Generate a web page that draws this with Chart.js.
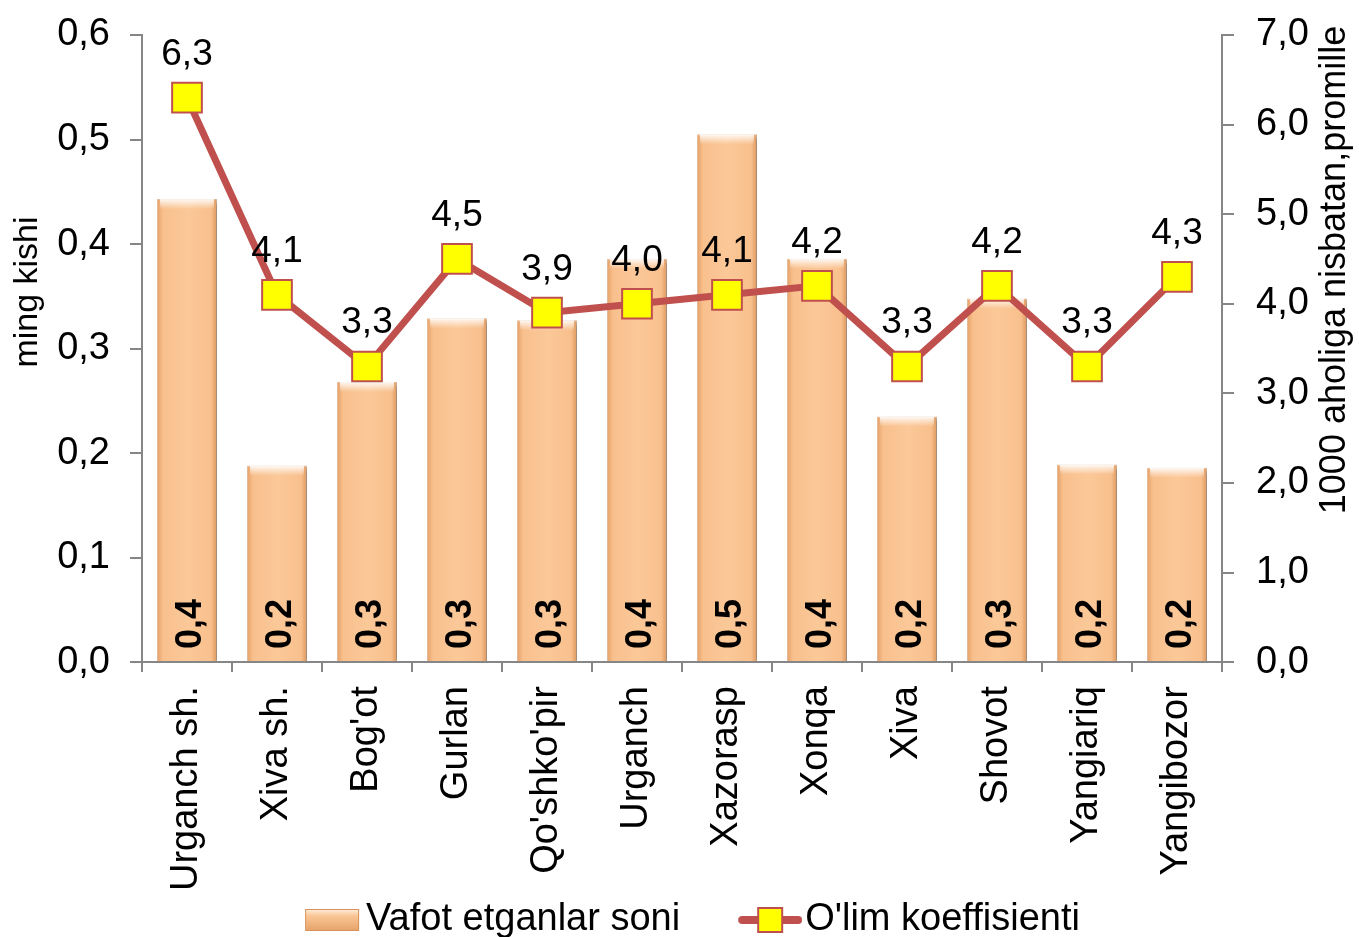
<!DOCTYPE html>
<html>
<head>
<meta charset="utf-8">
<script src="https://cdn.jsdelivr.net/npm/chart.js@4"></script>
<style>
  html, body { margin: 0; padding: 0; background: #fff; }
  #wrap { width: 1359px; height: 937px; }
</style>
</head>
<body>
<div id="wrap"><canvas id="chart" width="1359" height="937"></canvas></div>
<script>
// Ma'lumotlar
const categories = ["Urganch sh.", "Xiva sh.", "Bog'ot", "Gurlan", "Qo'shko'pir", "Urganch",
                    "Xazorasp", "Xonqa", "Xiva", "Shovot", "Yangiariq", "Yangibozor"];
const deaths = [0.443, 0.188, 0.268, 0.329, 0.327, 0.386, 0.505, 0.386, 0.235, 0.348, 0.189, 0.186];
const rate = [6.3, 4.1, 3.3, 4.5, 3.9, 4.0, 4.1, 4.2, 3.3, 4.2, 3.3, 4.3];
const leftTicks = [0, 0.1, 0.2, 0.3, 0.4, 0.5, 0.6];
const rightTicks = [0, 1, 2, 3, 4, 5, 6, 7];
const leftTitle = 'ming kishi';
const rightTitle = '1000 aholiga nisbatan,promille';

const FONT = "'Liberation Sans', Arial, sans-serif";
const AXIS = '#868686';
const LINE = '#C0504D';
const BAR_FRACTION = 0.667;
const TICK_SIZE = 38;

const fmt = v => v.toFixed(1).replace('.', ',');

// gradient per bar, across its width
function barFill(context) {
    const chart = context.chart;
    const xs = chart.scales.x;
    if (!xs || !chart.chartArea) return '#F9C494';
    const cx = xs.getPixelForValue(context.dataIndex);
    const half = xs.width / categories.length * BAR_FRACTION / 2;
    const g = chart.ctx.createLinearGradient(cx - half, 0, cx + half, 0);
    g.addColorStop(0, '#E6A066');
    g.addColorStop(0.1, '#F8C08D');
    g.addColorStop(0.5, '#FBC898');
    g.addColorStop(0.9, '#F8C08D');
    g.addColorStop(1, '#DE985E');
    return g;
}

// legend swatches: the drawn part sits at the right end of the canvas
// (the canvas is centred on the legend box), so the gap to the text stays small
const SWATCH_W = 102;
function barSwatch() {
    const c = document.createElement('canvas');
    c.width = 130;
    c.height = 26;
    const x = c.getContext('2d');
    const x0 = c.width - 56;
    const g = x.createLinearGradient(0, 2, 0, 24);
    g.addColorStop(0, '#FFF1E2');
    g.addColorStop(0.3, '#FAC797');
    g.addColorStop(1, '#E6A268');
    x.fillStyle = g;
    x.fillRect(x0, 2, 54, 22);
    x.strokeStyle = '#D6925A';
    x.strokeRect(x0 + 0.5, 2.5, 53, 21);
    return c;
}
function lineSwatch() {
    const c = document.createElement('canvas');
    c.width = 134;
    c.height = 30;
    const x = c.getContext('2d');
    const x0 = c.width - 64;
    x.strokeStyle = LINE;
    x.lineWidth = 8;
    x.lineCap = 'round';
    x.beginPath(); x.moveTo(x0 + 4, 15); x.lineTo(x0 + 60, 15); x.stroke();
    x.fillStyle = '#FFFF00';
    x.fillRect(x0 + 20, 3, 24, 24);
    x.strokeStyle = LINE;
    x.lineWidth = 2;
    x.strokeRect(x0 + 20, 3, 24, 24);
    return c;
}

// shadows, bar caps, value labels and axis titles
const decorPlugin = {
    id: 'decor',
    beforeDatasetDraw(chart, args) {
        if (args.meta.type === 'bar') {
            const ctx = chart.ctx;
            ctx.save();
            ctx.shadowColor = 'rgba(0,0,0,0.35)';
            ctx.shadowBlur = 5;
            ctx.shadowOffsetX = 3;
            ctx.shadowOffsetY = 2;
        }
    },
    afterDatasetDraw(chart, args) {
        if (args.meta.type !== 'bar') return;
        const ctx = chart.ctx;
        ctx.restore();
        args.meta.data.forEach(bar => {
            const half = bar.width / 2;
            const g = ctx.createLinearGradient(0, bar.y, 0, bar.y + 10);
            g.addColorStop(0, 'rgba(255,255,255,0.9)');
            g.addColorStop(1, 'rgba(255,255,255,0)');
            ctx.fillStyle = g;
            ctx.fillRect(bar.x - half + 3, bar.y, bar.width - 6, 10);
        });
    },
    afterDatasetsDraw(chart) {
        const ctx = chart.ctx;
        const bottom = chart.chartArea.bottom;
        ctx.save();
        ctx.fillStyle = '#000';
        // bar labels (bold, vertical, at the base)
        chart.getDatasetMeta(1).data.forEach((bar, i) => {
            ctx.save();
            ctx.translate(bar.x + 4, bottom - 13);
            ctx.rotate(-Math.PI / 2);
            ctx.font = 'bold 36px ' + FONT;
            ctx.textAlign = 'left';
            ctx.textBaseline = 'middle';
            ctx.fillText(fmt(deaths[i]), 0, 0);
            ctx.restore();
        });
        // line labels above the points
        ctx.font = '37px ' + FONT;
        ctx.textAlign = 'center';
        ctx.textBaseline = 'alphabetic';
        chart.getDatasetMeta(0).data.forEach((pt, i) => {
            ctx.fillText(fmt(rate[i]), pt.x, pt.y - 33);
        });
        ctx.restore();
    },
    afterDraw(chart) {
        const ctx = chart.ctx;
        const area = chart.chartArea;
        // left title
        ctx.save();
        ctx.fillStyle = '#000';
        ctx.textAlign = 'center';
        ctx.textBaseline = 'middle';
        ctx.font = '34px ' + FONT;
        ctx.translate(area.left - 114, area.top + 257);
        ctx.rotate(-Math.PI / 2);
        ctx.fillText(leftTitle, 0, 0, 166);
        ctx.restore();
        // right title, also read from bottom to top
        ctx.save();
        ctx.fillStyle = '#000';
        ctx.textAlign = 'center';
        ctx.textBaseline = 'middle';
        ctx.font = '36px ' + FONT;
        ctx.translate(area.right + 113, area.top + 235);
        ctx.rotate(-Math.PI / 2);
        ctx.fillText(rightTitle, 0, 0, 500);
        ctx.restore();
    }
};

const ctx = document.getElementById('chart');
const chart = new Chart(ctx, {
    data: {
        labels: categories,
        datasets: [
            {
                type: 'line',
                label: "O'lim koeffisienti",
                data: rate,
                yAxisID: 'y1',
                order: 0,
                borderColor: LINE,
                borderWidth: 7,
                pointStyle: 'rect',
                pointRadius: 21,
                pointBackgroundColor: '#FFFF00',
                pointBorderColor: LINE,
                pointBorderWidth: 2,
                tension: 0
            },
            {
                type: 'bar',
                label: 'Vafot etganlar soni',
                data: deaths,
                yAxisID: 'y',
                order: 1,
                backgroundColor: barFill,
                borderColor: 'rgba(214,150,96,0.6)',
                borderWidth: 1,
                barPercentage: BAR_FRACTION,
                categoryPercentage: 1
            }
        ]
    },
    options: {
        responsive: false,
        animation: false,
        devicePixelRatio: 1,
        layout: { padding: { top: 0, left: 0, right: 34, bottom: -12 } },
        plugins: {
            tooltip: { enabled: false },
            legend: {
                position: 'bottom',
                labels: {
                    font: { family: FONT, size: 38 },
                    color: '#000',
                    usePointStyle: true,
                    pointStyleWidth: SWATCH_W,
                    boxHeight: 30,
                    padding: 4,
                    generateLabels: () => [
                        { text: 'Vafot etganlar soni', pointStyle: barSwatch(), fillStyle: '#fff', strokeStyle: '#fff', lineWidth: 0, datasetIndex: 1 },
                        { text: "O'lim koeffisienti", pointStyle: lineSwatch(), fillStyle: '#fff', strokeStyle: '#fff', lineWidth: 0, datasetIndex: 0 }
                    ]
                }
            }
        },
        scales: {
            x: {
                grid: { drawOnChartArea: false, drawTicks: true, tickLength: 10, color: AXIS, lineWidth: 2, offset: true },
                border: { color: AXIS, width: 2 },
                ticks: {
                    color: '#000',
                    font: { family: FONT, size: TICK_SIZE },
                    minRotation: 90,
                    maxRotation: 90,
                    padding: 14,
                    autoSkip: false
                },
                afterFit: axis => { axis.height -= 8; }
            },
            y: {
                position: 'left',
                min: 0,
                max: 0.6,
                afterBuildTicks: axis => { axis.ticks = leftTicks.map(v => ({ value: v })); },
                afterFit: axis => { axis.width = 142; axis.paddingTop = 35; },
                grid: { drawOnChartArea: false, tickLength: 12, color: AXIS, lineWidth: 2 },
                border: { color: AXIS, width: 2 },
                ticks: {
                    color: '#000',
                    font: { family: FONT, size: TICK_SIZE },
                    padding: 20,
                    callback: v => fmt(v)
                }
            },
            y1: {
                position: 'right',
                min: 0,
                max: 7,
                afterBuildTicks: axis => { axis.ticks = rightTicks.map(v => ({ value: v })); },
                afterFit: axis => { axis.width = 103; axis.paddingTop = 35; },
                grid: { drawOnChartArea: false, tickLength: 12, color: AXIS, lineWidth: 2 },
                border: { color: AXIS, width: 2 },
                ticks: {
                    color: '#000',
                    font: { family: FONT, size: TICK_SIZE },
                    padding: 22,
                    callback: v => fmt(v)
                }
            }
        }
    },
    plugins: [decorPlugin]
});
</script>
</body>
</html>
